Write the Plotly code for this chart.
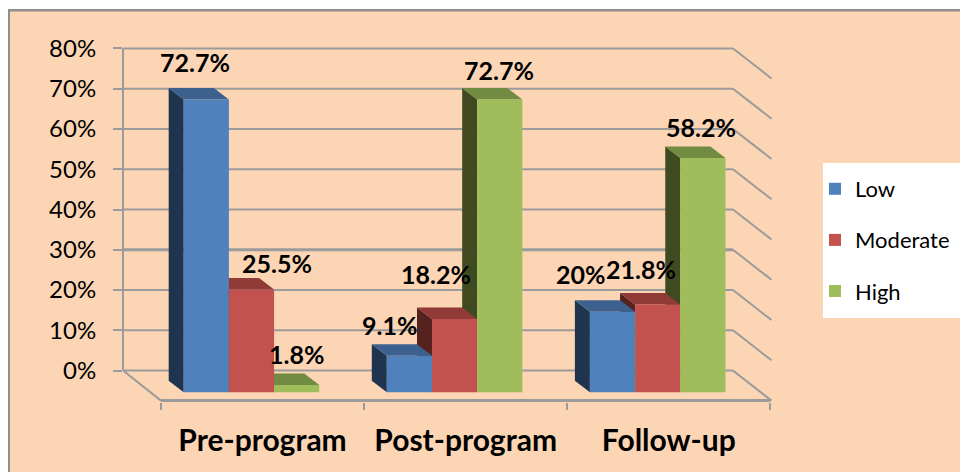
import plotly.graph_objects as go

categories = ["Pre-program", "Post-program", "Follow-up"]
series_names = ["Low", "Moderate", "High"]
low_values = [72.7, 9.1, 20.0]
moderate_values = [25.5, 18.2, 21.8]
high_values = [1.8, 72.7, 58.2]
low_labels = ["72.7%", "9.1%", "20%"]
moderate_labels = ["25.5%", "18.2%", "21.8%"]
high_labels = ["1.8%", "72.7%", "58.2%"]
y_ticks = [0, 10, 20, 30, 40, 50, 60, 70, 80]
y_tick_labels = ["0%", "10%", "20%", "30%", "40%", "50%", "60%", "70%", "80%"]

# --- styling / layout constants (pixels of the 960x472 page) ---
W, H = 960, 472
PLOT_L, PLOT_R, PLOT_T, PLOT_B = 123, 775, 12, 402
Y0_PX, PX_PER_PCT = 370.6, 4.027          # back wall scale
X0_PX, PX_PER_CAT = 161.0, 203.1          # front floor scale
FRONT_BASE_PX = 392.3
DEPTH_X, DEPTH_Y = 15.0, 11.5             # bar depth
WALL_END_X = 733.0
FLOOR_DX, FLOOR_DY = 38.5, 30.0
GRID = "#9b9b9b"
FONT = "Lato, Carlito, 'Open Sans', sans-serif"
PEACH = "#FCD5B5"
FRONT = ["#4F81BD", "#C3514E", "#9FBE5B"]
TOPS = ["#3D618F", "#913B39", "#728B42"]
SIDES = ["#1F344F", "#562220", "#3F4A20"]
GROUP_CENTER = 0.4455
BAR_W = 0.2225
# label offsets from the top-centre of each bar's front face (dx, up)
LABEL_LIFT = 2.5
LABEL_OFFSETS = [
    [(-11, 35), (-20, 28), (-31, 35)],
    [(25.5, 24), (-18.5, 43), (-17, 33)],
    [(0, 29), (-1, 27), (-2, 28)],
]

def xv(px):
    return (px - X0_PX) / PX_PER_CAT

def yv(px):
    return (Y0_PX - px) / PX_PER_PCT

def paper_x(px):
    return (px - PLOT_L) / (PLOT_R - PLOT_L)

def paper_y(px):
    return (PLOT_B - px) / (PLOT_B - PLOT_T)

base = yv(FRONT_BASE_PX)
ddx = DEPTH_X / PX_PER_CAT
ddy = DEPTH_Y / PX_PER_PCT
values = [low_values, moderate_values, high_values]
labels = [low_labels, moderate_labels, high_labels]

shapes = []

def line(x0, y0, x1, y1, width=2, color=GRID, xref="x"):
    shapes.append(dict(type="line", xref=xref, yref="y", x0=x0, y0=y0, x1=x1, y1=y1,
                       layer="below", line=dict(color=color, width=width)))

def poly(points, color):
    path = "M " + " L ".join(f"{a},{b}" for a, b in points) + " Z"
    shapes.append(dict(type="path", xref="x", yref="y", path=path, layer="below",
                       fillcolor=color, line=dict(width=0)))

# page: white margin, grey frame, white legend panel
for x0, x1, y0, y1, col in [
    (0, 8, 0, H, "white"), (0, W, 0, 9, "white"),
    (8, 10, 9, H, "#8f8f8f"), (8, W, 9, 11.5, "#8f8f8f"),
    (823, W, 163, 318, "white"),
]:
    shapes.append(dict(type="rect", xref="paper", yref="paper",
                       x0=paper_x(x0), x1=paper_x(x1), y0=paper_y(y0), y1=paper_y(y1),
                       fillcolor=col, line=dict(width=0), layer="below"))

# walls
wall_x0, wall_x1 = xv(PLOT_L), xv(WALL_END_X)
fdx, fdy = FLOOR_DX / PX_PER_CAT, FLOOR_DY / PX_PER_PCT
for t in y_ticks:
    w = 3 if t == 30 else 2
    line(wall_x0, t, wall_x1, t, w)
    line(wall_x1, t, wall_x1 + fdx, t - fdy, 2)
line(0, 0, 0, 80, xref="paper")
line(wall_x0, 0, xv(X0_PX), -fdy)
line(0, -fdy, 3, -fdy, 3)

# bar depth faces, drawn right to left so nearer neighbours cover them
for s in [2, 1, 0]:
    for c in range(3):
        left = c + GROUP_CENTER + (s - 1.5) * BAR_W
        right = left + BAR_W
        top = base + values[s][c]
        poly([(left, top), (left - ddx, top + ddy), (left - ddx, base + ddy), (left, base)], SIDES[s])
        poly([(left, top), (left - ddx, top + ddy), (right - ddx, top + ddy), (right, top)], TOPS[s])

fig = go.Figure()
x_pos = [c + GROUP_CENTER for c in range(3)]
for s, name in enumerate(series_names):
    fig.add_trace(go.Bar(
        x=x_pos, y=values[s], base=base, name=name, legendgroup=name,
        marker=dict(color=FRONT[s], line=dict(width=0)), hoverinfo="skip",
    ))

annotations = []
for s in range(3):
    for c in range(3):
        dx, up = LABEL_OFFSETS[s][c]
        annotations.append(dict(
            x=c + GROUP_CENTER + (s - 1) * BAR_W, y=base + values[s][c], xref="x", yref="y",
            text=labels[s][c], showarrow=False, xanchor="center", yanchor="middle",
            xshift=dx, yshift=up + LABEL_LIFT,
            font=dict(family=FONT, size=25, color="#000000", weight="bold"),
        ))

fig.update_layout(
    width=W, height=H, autosize=False,
    margin=dict(l=PLOT_L, r=W - PLOT_R, t=PLOT_T, b=H - PLOT_B, pad=0, autoexpand=False),
    paper_bgcolor=PEACH, plot_bgcolor="rgba(0,0,0,0)",
    barmode="group", bargap=1 - 3 * BAR_W, bargroupgap=0,
    shapes=shapes, annotations=annotations,
    font=dict(family=FONT, color="#000000"),
    legend=dict(
        x=paper_x(815), y=paper_y(168), xanchor="left", yanchor="top",
        bgcolor="rgba(0,0,0,0)", borderwidth=0, tracegroupgap=19.5, traceorder="grouped",
        font=dict(family=FONT, size=22, color="#000000"),
    ),
    xaxis=dict(
        range=[xv(PLOT_L), xv(PLOT_R)], showgrid=False, zeroline=False, showline=False,
        tickmode="array", tickvals=[0.5, 1.5, 2.5], ticktext=categories, ticks="",
        tickfont=dict(family=FONT, size=30, color="#000000", weight="bold"),
        ticklabelstandoff=18,
        minor=dict(tickmode="array", tickvals=[0, 1, 2, 3], ticks="outside", ticklen=7,
                   tickwidth=2, tickcolor=GRID, showgrid=False),
    ),
    yaxis=dict(
        range=[yv(PLOT_B), yv(PLOT_T)], showgrid=False, zeroline=False, showline=False,
        tickmode="array", tickvals=y_ticks, ticktext=y_tick_labels,
        ticks="outside", ticklen=9, tickwidth=2, tickcolor=GRID,
        tickfont=dict(family=FONT, size=24, color="#000000"),
        ticklabelstandoff=12,
    ),
)
fig.write_html("out.html", config={"displayModeBar": False},
               post_script="document.body.style.margin='0';document.documentElement.style.overflow='hidden';")
